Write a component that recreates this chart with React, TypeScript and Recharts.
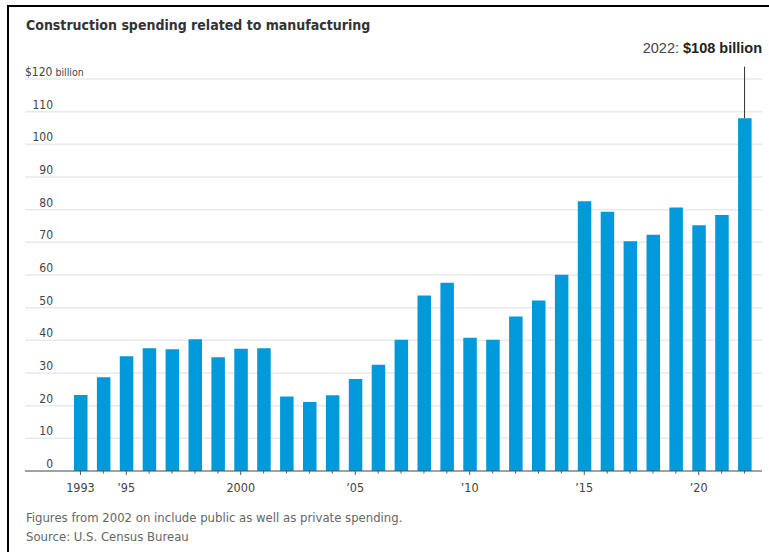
import React from "react";
import { BarChart, Bar, XAxis, YAxis, CartesianGrid, ReferenceLine } from "recharts";

const years = [
  "1993", "1994", "1995", "1996", "1997", "1998", "1999", "2000", "2001", "2002",
  "2003", "2004", "2005", "2006", "2007", "2008", "2009", "2010", "2011", "2012",
  "2013", "2014", "2015", "2016", "2017", "2018", "2019", "2020", "2021", "2022",
];
const spending = [
  23.3, 28.7, 35.1, 37.6, 37.3, 40.3, 34.8, 37.4, 37.6, 22.8,
  21.1, 23.2, 28.2, 32.5, 40.2, 53.7, 57.6, 40.8, 40.2, 47.3,
  52.2, 60.1, 82.6, 79.4, 70.3, 72.3, 80.7, 75.2, 78.4, 108,
];
const yTicks = [0, 10, 20, 30, 40, 50, 60, 70, 80, 90, 100, 110, 120];
const xLabels: Record<string, string> = {
  "1993": "1993",
  "1995": "\u201995",
  "2000": "2000",
  "2005": "\u201905",
  "2010": "\u201910",
  "2015": "\u201915",
  "2020": "\u201920",
};
const title = "Construction spending related to manufacturing";
const note = "Figures from 2002 on include public as well as private spending.";
const source = "Source: U.S. Census Bureau";
const annoYear = "2022";
const annoValue = 108;

const data = years.map((y, i) => ({ year: y, value: spending[i] }));

const NARROW = "'Liberation Sans Narrow', 'DejaVu Sans Condensed', 'Arial Narrow', sans-serif";
const SANS = "'Liberation Sans', Arial, sans-serif";

const YTick = (props: any) => {
  const { y, payload } = props;
  const v = payload.value;
  if (v === 120) {
    return (
      <text x={25} y={y - 3} fill="#444" fontFamily={NARROW} fontSize={12}>
        <tspan>$120</tspan>
        <tspan fontSize={10.5}> billion</tspan>
      </text>
    );
  }
  return (
    <text x={53} y={y - 3} textAnchor="end" fill="#444" fontFamily={NARROW} fontSize={12}>
      {v}
    </text>
  );
};

const XTick = (props: any) => {
  const { x, y, payload } = props;
  const lab = xLabels[payload.value];
  const axisY = y - 8;
  return (
    <g>
      <line x1={x} x2={x} y1={axisY} y2={axisY + (lab ? 4 : 2.5)} stroke="#555" strokeWidth={1} />
      {lab ? (
        <text x={x} y={axisY + 21} textAnchor="middle" fill="#444" fontFamily={NARROW} fontSize={12.5}>
          {lab}
        </text>
      ) : null}
    </g>
  );
};

export default function App() {
  return (
    <div style={{ position: "absolute", left: 0, top: 0, width: 769, height: 552, background: "#fff", overflow: "hidden" }}>
      <div style={{ position: "absolute", left: 7, top: 5, width: 762, height: 2, background: "#000" }} />
      <div style={{ position: "absolute", left: 7, top: 5, width: 2, height: 547, background: "#000" }} />
      <div
        style={{
          position: "absolute",
          left: 26,
          top: 17,
          fontFamily: NARROW,
          fontWeight: 700,
          fontSize: 14,
          color: "#333",
          whiteSpace: "nowrap",
        }}
      >
        {title}
      </div>
      <div
        style={{
          position: "absolute",
          right: 7,
          top: 40,
          fontFamily: SANS,
          fontSize: 14.5,
          color: "#444",
          whiteSpace: "nowrap",
        }}
      >
        <span>2022: </span>
        <span style={{ fontWeight: 700, color: "#222" }}>$108 billion</span>
      </div>
      <div style={{ position: "absolute", left: 0, top: 0 }}>
        <BarChart
          width={769}
          height={552}
          data={data}
          margin={{ top: 79, right: 7, bottom: 51, left: 0 }}
          barCategoryGap={0}
        >
          <CartesianGrid vertical={false} stroke="#e9e9e9" strokeWidth={1.5} />
          <XAxis
            dataKey="year"
            interval={0}
            height={30}
            padding={{ left: 44, right: 6 }}
            axisLine={{ stroke: "#555", strokeWidth: 1 }}
            tickLine={false}
            tick={<XTick />}
          />
          <YAxis
            domain={[0, 120]}
            ticks={yTicks}
            width={25}
            axisLine={false}
            tickLine={false}
            tick={<YTick />}
            interval={0}
          />
          <Bar dataKey="value" fill="#0099d9" barSize={13.5} isAnimationActive={false} />
          <ReferenceLine
            segment={[
              { x: annoYear, y: annoValue },
              { x: annoYear, y: 123.8 },
            ]}
            stroke="#333"
            strokeWidth={1}
            ifOverflow="visible"
          />
        </BarChart>
      </div>
      <div
        style={{
          position: "absolute",
          left: 26,
          top: 508,
          fontFamily: NARROW,
          fontSize: 13,
          color: "#666",
          lineHeight: "19px",
          whiteSpace: "nowrap",
        }}
      >
        <div>{note}</div>
        <div>{source}</div>
      </div>
    </div>
  );
}
